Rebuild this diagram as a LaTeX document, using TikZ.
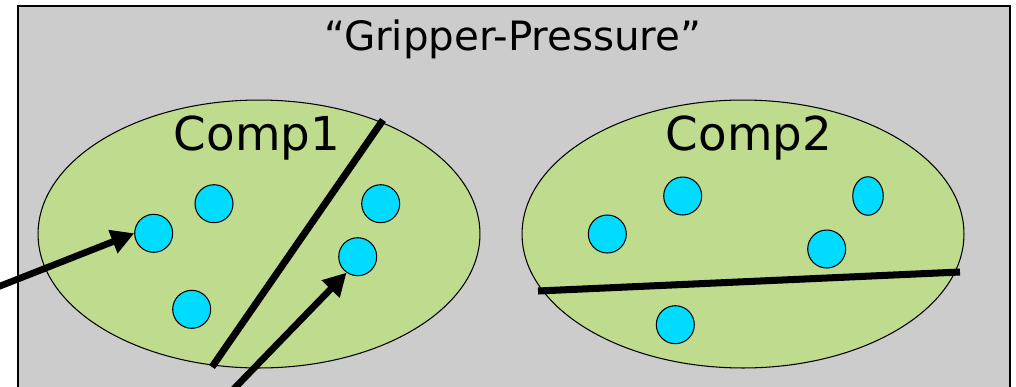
\documentclass[tikz,border=0pt]{standalone}
\usepackage{fontspec}
\setmainfont{DejaVu Sans}
\usepackage{tikz}
\usetikzlibrary{arrows.meta,positioning,shapes.geometric}
\usepackage{xcolor}
\definecolor{PanelGray}{HTML}{CCCCCC}
\definecolor{CompGreen}{HTML}{BFDC8E}
\definecolor{DotCyan}{HTML}{00DCFF}

\begin{document}
\begin{tikzpicture}[x=0.02cm,y=-0.02cm,
  comp/.style={ellipse,draw=black,line width=0.6pt,fill=CompGreen,minimum width=8.84cm,minimum height=5.36cm,inner sep=0pt},
  dot/.style={circle,draw=black,line width=0.6pt,fill=DotCyan,minimum size=0.76cm,inner sep=0pt},
  cut/.style={line width=4pt},
  push/.style={line width=3.8pt,-{Triangle[length=13pt,width=13.5pt]}}]
\clip (0,0) rectangle (1016,386);
\draw[fill=PanelGray,line width=1.1pt] (18,6) rectangle (1010,420);
\node[anchor=base] (title) at (513,50) {\fontsize{23}{27}\selectfont “Gripper-Pressure”};
% the two components
\node[comp] (comp1) at (259,234) {};
\node[comp] (comp2) at (743,234) {};
\node[anchor=base] (lab1) at (257,150) {\fontsize{26.6}{32}\selectfont Comp1};
\node[anchor=base] (lab2) at (749,150) {\fontsize{26.6}{32}\selectfont Comp2};
% points of comp1
\node[dot] (d1) at (153.7,233.3) {};
\node[dot] (d2) at (214,203.7) {};
\node[dot] (d3) at (191.7,309.3) {};
\node[dot] (d4) at (380.7,203.7) {};
\node[dot] (d5) at (357.7,256.7) {};
% points of comp2
\node[dot] (e1) at (607.3,234) {};
\node[dot] (e2) at (682.7,196) {};
\node[dot,ellipse,minimum size=0pt,minimum width=0.61cm,minimum height=0.77cm] (e3) at (868,196) {};
\node[dot] (e4) at (826.7,249) {};
\node[dot] (e5) at (675.3,324.7) {};
% cuts
\coordinate (c1a) at (383,120);
\coordinate (c1b) at (212,367);
\coordinate (c2a) at (538,291);
\coordinate (c2b) at (960,272);
\draw[cut] (c1a) -- (c1b);
\draw[cut] (c2a) -- (c2b);
% pushes
\coordinate (p1) at (-10,290);
\coordinate (p2) at (226,397);
\draw[push] (p1) -- (d1.west);
\draw[push] (p2) -- (d5.235);
\end{tikzpicture}
\end{document}
